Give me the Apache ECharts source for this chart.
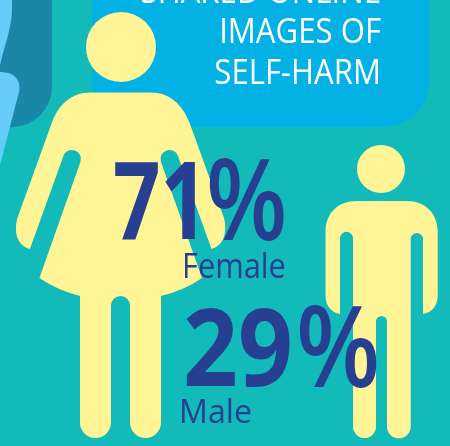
<!DOCTYPE html>
<html><head><meta charset="utf-8">
<style>html,body{margin:0;padding:0;background:#12BBB9}#c{width:450px;height:446px}</style>
<script src="https://cdn.jsdelivr.net/npm/echarts@6/dist/echarts.min.js"></script>
</head><body><div id="c"></div>
<script>
var categories = ['Female', 'Male'];
var percentages = [71, 29];
var headingLines = ['SHARED ONLINE', 'IMAGES OF', 'SELF-HARM'];

var NAVY = '#273F91', YELLOW = '#FFF596';
var FONT = '"Open Sans", sans-serif';
var WOMAN = 'M90.4 92.5L151 92.5C170 92.5 183 105 190 124L224 218C228 235 222 246 211.5 249L178 156A9 9 0 0 0 161 162L202 278Q185 290 161 296L161 422.5A15.5 15.5 0 0 1 130 422.5L130 305.5A9.5 9.5 0 0 0 111 305.5L111 422.5A15.5 15.5 0 0 1 80 422.5L80 296Q57 290 39.4 278L80.4 162A9 9 0 0 0 63.4 156L29.9 249C19 246 13 235 17.4 218L51.4 124C58 105 71 92.5 90.4 92.5Z';
var MAN = 'M357 201L407 201C425 201 437.7 213 437.7 232L437.7 296C437.7 306 431 313 423 314L423 238A6.3 6.3 0 0 0 410.7 238L410.7 426.5A11.8 11.8 0 0 1 387 426.5L387 321.5A5.5 5.5 0 0 0 376 321.5L376 426.5A11.5 11.5 0 0 1 353 426.5L353 238.3A6.5 6.5 0 0 0 340 238.3L340 314C332 313 325.5 306 325.5 296L325.5 232C325.5 213 338 201 357 201Z';
var figures = [
  { path: WOMAN, head: [121, 47, 35] },
  { path: MAN, head: [381, 169, 24] }
];
var numberLayout = [
  { x: 113, y: 238, sx: 0.77, px: 206, psx: 0.84, lx: 182, ly: 277.5, lsize: 34, lsx: 0.905 },
  { x: 183, y: 385, sx: 0.89, px: 296, psx: 0.87, lx: 179, ly: 423, lsize: 33, lsx: 0.975 }
];

function path(d, fill) { return { type: 'path', shape: { pathData: d }, style: { fill: fill } }; }
function label(text, x, baseline, size, weight, sx, fill, align) {
  return { type: 'text', x: x, y: baseline - 0.78 * size, scaleX: sx, style: {
    text: text, fill: fill, font: weight + ' ' + size + 'px ' + FONT, textAlign: align, textVerticalAlign: 'top' } };
}

function renderBackdrop() {
  var kids = [
    path('M-10 -60L52 -60L52 87A40 40 0 0 1 12 127L-10 127Z', '#1A86A8'),
    path('M-10 -10L12 -10L12 10C12 25 5 45 0 65L-10 65Z', '#66CCF9'),
    path('M-10 70L8 73C17 75 21 84 19 92L0 165L-10 165Z', '#66CCF9'),
    path('M92 -60L429 -60L429 82A45 45 0 0 1 384 127L137 127A45 45 0 0 1 92 82Z', '#04B1E5')
  ];
  [2.5, 42.5, 83.5].forEach(function (y, i) {
    kids.push(label(headingLines[i], 381, y, 35, 'normal', 0.89, '#fff', 'right'));
  });
  return { type: 'group', children: kids };
}
function renderFigure(p, api) {
  var f = figures[api.value(0)];
  return { type: 'group', children: [
    path(f.path, YELLOW),
    { type: 'circle', shape: { cx: f.head[0], cy: f.head[1], r: f.head[2] }, style: { fill: YELLOW } }
  ] };
}
function renderText(p, api) {
  var i = api.value(0), L = numberLayout[i];
  return { type: 'group', children: [
    label(String(api.value(1)), L.x, L.y, 108, 'bold', L.sx, NAVY, 'left'),
    label('%', L.px, L.y + 1, 112, '600', L.psx, NAVY, 'left'),
    label(categories[i], L.lx, L.ly, L.lsize, 'normal', L.lsx, NAVY, 'left')
  ] };
}
var rows = categories.map(function (c, i) { return { name: c, value: [i, percentages[i]] }; });
var chart = echarts.init(document.getElementById('c'), null, { renderer: 'canvas' });
chart.setOption({
  animation: false,
  backgroundColor: '#12BBB9',
  series: [
    { type: 'custom', name: 'backdrop', coordinateSystem: 'none', z: 1, silent: true, data: [[0]], renderItem: renderBackdrop },
    { type: 'custom', name: 'figures', coordinateSystem: 'none', z: 2, silent: true, data: rows, renderItem: renderFigure },
    { type: 'custom', name: 'shares', coordinateSystem: 'none', z: 3, silent: true, data: rows, renderItem: renderText }
  ]
});
</script></body></html>
